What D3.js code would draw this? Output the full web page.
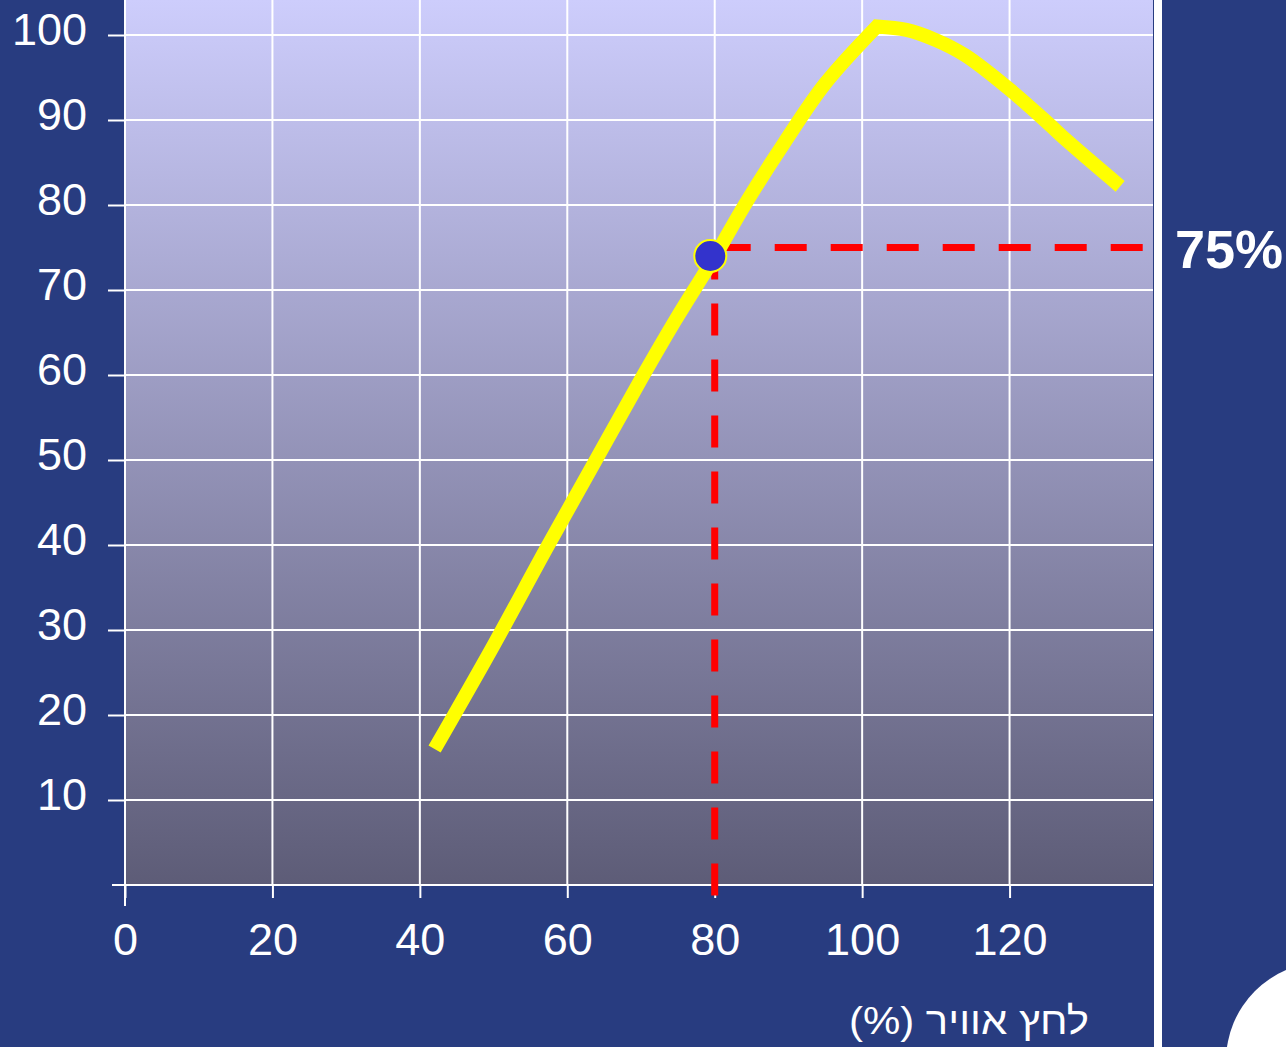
<!DOCTYPE html>
<html>
<head>
<meta charset="utf-8">
<script src="https://cdn.jsdelivr.net/npm/d3@7"></script>
<style>
  html, body { margin: 0; padding: 0; background: #283c80; overflow: hidden; }
  svg { display: block; }
</style>
</head>
<body>
<svg id="chart" width="1286" height="1047"></svg>
<script>
// Engine power (%) against air pressure (%)
const pressure = [42, 50, 57.3, 64, 70.2, 74.7, 78.2, 80, 84.2, 89.5, 95, 102, 106, 110, 114, 120, 125, 128, 135];
const power    = [16, 28.2, 39.8, 50.2, 59.8, 66.5, 71.4, 73.9, 80.2, 87.4, 94.3, 101, 100.6, 99.4, 97.6, 93.6, 89.8, 87.4, 82.2];

// Highlighted operating point on the curve and its guide values
const markPoint = [79.4, 74.0];
const guideX = 80;
const guideY = 75;
const guideLabel = "75%";

const xTicks = [0, 20, 40, 60, 80, 100, 120];
const yTicks = [10, 20, 30, 40, 50, 60, 70, 80, 90, 100];
const xTitle = "לחץ אוויר (%)";

const W = 1286, H = 1047;
const FONT = "'Liberation Sans', Arial, Helvetica, sans-serif";

const svg = d3.select("#chart");
svg.append("rect").attr("width", W).attr("height", H).attr("fill", "#283c80");

const x = d3.scaleLinear().domain([0, 140]).range([125, 1157]);
const y = d3.scaleLinear().domain([0, 100]).range([885, 35]);

const plotLeft = x(0), plotRight = 1153, plotTop = 0, plotBottom = y(0);
const gxPx = x(guideX), gyPx = y(guideY);

// background gradient of the plotting area
const defs = svg.append("defs");
const grad = defs.append("linearGradient").attr("id", "plotBg")
  .attr("x1", 0).attr("y1", 0).attr("x2", 0).attr("y2", 1);
grad.append("stop").attr("offset", "0%").attr("stop-color", "#cdcdfc");
grad.append("stop").attr("offset", "100%").attr("stop-color", "#5d5c77");

svg.append("rect")
  .attr("x", plotLeft).attr("y", plotTop)
  .attr("width", plotRight - plotLeft).attr("height", plotBottom - plotTop)
  .attr("fill", "url(#plotBg)");

// grid (the vertical line under the dashed guide stops at the guide)
const grid = svg.append("g").attr("stroke", "#ffffff").attr("stroke-width", 2);
grid.selectAll("line.v").data(xTicks.filter(d => d > 0)).join("line")
  .attr("class", "v")
  .attr("x1", d => x(d)).attr("x2", d => x(d))
  .attr("y1", plotTop).attr("y2", d => d === guideX ? gyPx : plotBottom);
grid.selectAll("line.h").data(yTicks).join("line")
  .attr("class", "h")
  .attr("x1", plotLeft).attr("x2", plotRight)
  .attr("y1", d => y(d)).attr("y2", d => y(d));

// axes
const yAxis = d3.axisLeft(y).tickValues(yTicks).tickSize(17).tickPadding(21);
const gy = svg.append("g").attr("transform", `translate(${plotLeft},0)`).call(yAxis);
gy.select(".domain").remove();
gy.selectAll(".tick line").attr("stroke", "#fff").attr("stroke-width", 2);
gy.selectAll(".tick text")
  .attr("fill", "#fff").attr("dy", "0.2em")
  .style("font-family", FONT).style("font-size", "45px");

const xAxis = d3.axisBottom(x).tickValues(xTicks).tickSize(13).tickPadding(25);
const gx = svg.append("g").attr("transform", `translate(0,${plotBottom})`).call(xAxis);
gx.select(".domain").remove();
gx.selectAll(".tick line").attr("stroke", "#fff").attr("stroke-width", 2);
gx.selectAll(".tick text")
  .attr("fill", "#fff")
  .style("font-family", FONT).style("font-size", "45px");

// axis lines
svg.append("line")
  .attr("x1", plotLeft).attr("x2", plotLeft)
  .attr("y1", plotTop).attr("y2", plotBottom + 21)
  .attr("stroke", "#fff").attr("stroke-width", 2);
svg.append("line")
  .attr("x1", plotLeft - 13).attr("x2", plotRight)
  .attr("y1", plotBottom).attr("y2", plotBottom)
  .attr("stroke", "#fff").attr("stroke-width", 2);

// separator bar on the right of the plot
svg.append("rect")
  .attr("x", plotRight + 1).attr("y", 0)
  .attr("width", 8).attr("height", H)
  .attr("fill", "#ffffff");

// guide lines
svg.append("line")
  .attr("x1", gxPx + 4).attr("x2", plotRight - 9)
  .attr("y1", gyPx).attr("y2", gyPx)
  .attr("stroke", "#ff0000").attr("stroke-width", 7)
  .attr("stroke-dasharray", "32 24");
svg.append("line")
  .attr("x1", gxPx).attr("x2", gxPx)
  .attr("y1", gyPx).attr("y2", plotBottom + 21)
  .attr("stroke", "#ff0000").attr("stroke-width", 7)
  .attr("stroke-dasharray", "32 24");

// curve: smooth on each side, with a corner at the maximum
const pts = pressure.map((p, i) => [p, power[i]]);
const peakIdx = power.indexOf(d3.max(power));
const smooth = d3.line().x(d => x(d[0])).y(d => y(d[1])).curve(d3.curveCatmullRom.alpha(0.5));
const pathD = smooth(pts.slice(0, peakIdx + 1)) + smooth(pts.slice(peakIdx)).replace(/^M/, "L");
svg.append("path")
  .attr("d", pathD)
  .attr("fill", "none")
  .attr("stroke", "#ffff00")
  .attr("stroke-width", 14)
  .attr("stroke-linecap", "butt")
  .attr("stroke-linejoin", "miter");

// marker
svg.append("circle")
  .attr("cx", x(markPoint[0])).attr("cy", y(markPoint[1]))
  .attr("r", 16)
  .attr("fill", "#3333cc")
  .attr("stroke", "#ffff00").attr("stroke-width", 2);

// guide value label
svg.append("text")
  .attr("x", 1175).attr("y", gyPx + 20)
  .attr("fill", "#fff")
  .style("font-family", FONT).style("font-size", "54px").style("font-weight", "bold")
  .text(guideLabel);

// x axis title (Hebrew, right-to-left)
svg.append("text")
  .attr("x", 969).attr("y", 1034)
  .attr("text-anchor", "middle")
  .attr("direction", "rtl")
  .style("direction", "rtl")
  .style("unicode-bidi", "embed")
  .attr("textLength", 240)
  .attr("lengthAdjust", "spacingAndGlyphs")
  .attr("fill", "#fff")
  .style("font-family", FONT).style("font-size", "38px")
  .text(xTitle);

// decorative white shape in the lower right corner
svg.append("circle")
  .attr("cx", 1325).attr("cy", 1061).attr("r", 99)
  .attr("fill", "#ffffff");
</script>
</body>
</html>
